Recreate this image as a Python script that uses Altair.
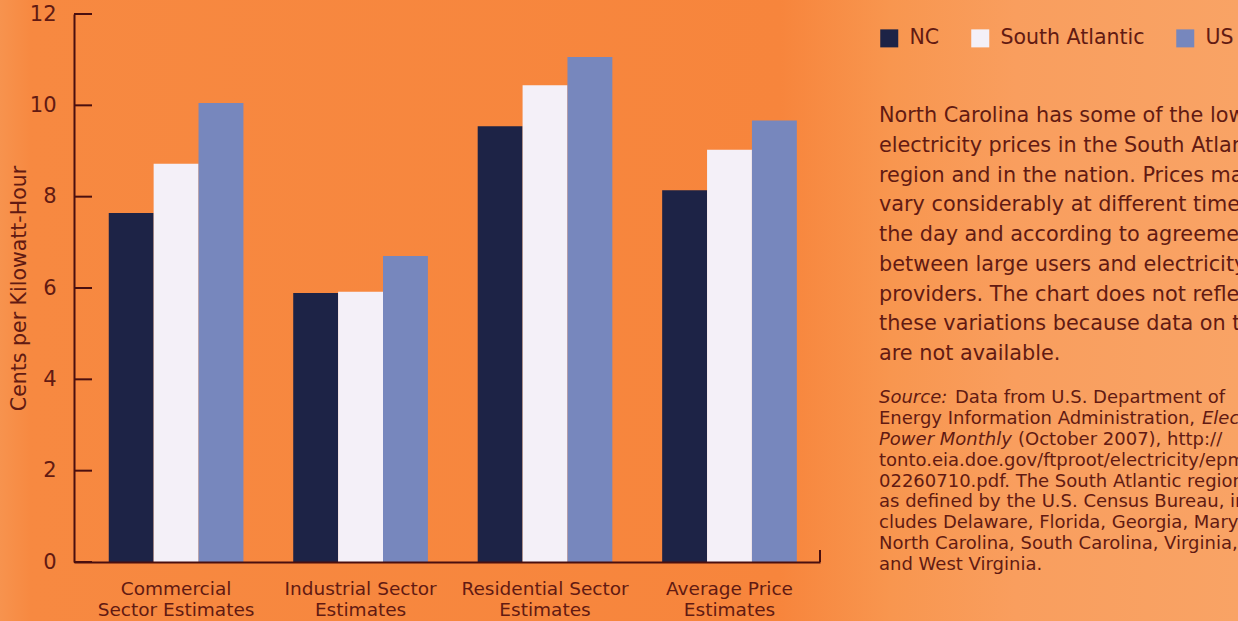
import altair as alt
import pandas as pd

# ---- data ----
categories = ["Commercial|Sector Estimates", "Industrial Sector|Estimates",
              "Residential Sector|Estimates", "Average Price|Estimates"]
series = ["NC", "South Atlantic", "US"]
nc = [7.64, 5.89, 9.54, 8.14]
south_atlantic = [8.72, 5.92, 10.44, 9.03]
us = [10.05, 6.70, 11.06, 9.67]
y_ticks = [0, 2, 4, 6, 8, 10, 12]
colors = ["#1d2346", "#f4f0f8", "#7787bd"]

body_lines = [
    "North Carolina has some of the lowest",
    "electricity prices in the South Atlantic",
    "region and in the nation. Prices may",
    "vary considerably at different times of",
    "the day and according to agreements",
    "between large users and electricity",
    "providers. The chart does not reflect",
    "these variations because data on them",
    "are not available.",
]
source_rest_lines = [
    "tonto.eia.doe.gov/ftproot/electricity/epm/",
    "02260710.pdf. The South Atlantic region,",
    "as defined by the U.S. Census Bureau, in-",
    "cludes Delaware, Florida, Georgia, Maryland,",
    "North Carolina, South Carolina, Virginia,",
    "and West Virginia.",
]

rows = []
for i, c in enumerate(categories):
    rows.append({"category": c, "series": series[0], "value": nc[i]})
    rows.append({"category": c, "series": series[1], "value": south_atlantic[i]})
    rows.append({"category": c, "series": series[2], "value": us[i]})
df = pd.DataFrame(rows)
ticks_df = pd.DataFrame({"v": y_ticks})
one = pd.DataFrame({"a": [0]})

FONT = "DejaVu Sans"
TXT = "#621a12"
AX = "#4a0f0f"
W, H = 746, 548
L, T = 74, 14

yscale = alt.Scale(domain=[0, 12], nice=False, zero=True)

background = alt.Chart(one).mark_rect(
    fill={
        "gradient": "linear", "x1": 0, "x2": 1, "y1": 0, "y2": 0,
        "stops": [
            {"offset": 0.0, "color": "#f7934e"},
            {"offset": 0.025, "color": "#f78941"},
            {"offset": 0.63, "color": "#f7853c"},
            {"offset": 0.72, "color": "#f8964f"},
            {"offset": 0.82, "color": "#f99e5e"},
            {"offset": 1.0, "color": "#f9a365"},
        ],
    }
).encode(x=alt.value(-L), x2=alt.value(1238 - L), y=alt.value(-T), y2=alt.value(621 - T))

bars = alt.Chart(df).mark_bar().encode(
    x=alt.X("category:N", sort=categories,
            scale=alt.Scale(paddingInner=0.27, paddingOuter=0.157, align=0.6),
            axis=alt.Axis(title=None, labelExpr="split(datum.label, '|')", labelAngle=0,
                          labelFont=FONT, labelFontSize=18.5, labelColor=TXT,
                          labelPadding=17, labelLineHeight=21.5, labelBaseline="top",
                          ticks=False, domainColor=AX, domainWidth=2, zindex=2)),
    xOffset=alt.XOffset("series:N", sort=series, scale=alt.Scale(paddingInner=0.0)),
    y=alt.Y("value:Q", scale=yscale,
            axis=alt.Axis(values=y_ticks, ticks=False, grid=False,
                          domainColor=AX, domainWidth=2, zindex=2,
                          labelFont=FONT, labelFontSize=21, labelColor=TXT, labelPadding=18,
                          title="Cents per Kilowatt-Hour", titleFont=FONT, titleFontSize=20.5,
                          titleFontWeight="normal", titleColor=TXT, titlePadding=0)),
    color=alt.Color("series:N", sort=series,
                    scale=alt.Scale(domain=series, range=colors),
                    legend=alt.Legend(title=None, orient="none", legendX=805, legendY=14,
                                      direction="horizontal", symbolType="square",
                                      symbolSize=324, symbolStrokeWidth=0,
                                      labelFont=FONT, labelFontSize=20.5, labelColor=TXT,
                                      labelOffset=10, columnPadding=30)),
)

tick_rules = alt.Chart(ticks_df).mark_rule(color=AX, strokeWidth=2).encode(
    y=alt.Y("v:Q", scale=yscale), x=alt.value(0), x2=alt.value(18))

end_tick = alt.Chart(one).mark_rule(color=AX, strokeWidth=2).encode(
    x=alt.value(W), y=alt.value(H - 12), y2=alt.value(H))

TX = 879 - L

body = alt.Chart(one).mark_text(
    text=body_lines, align="left", baseline="alphabetic", font=FONT, fontSize=20.8,
    color=TXT, lineHeight=29.75
).encode(x=alt.value(TX), y=alt.value(122 - T))

SF = 18
SLH = 20.9
sb = 403 - T
src1a = alt.Chart(one).mark_text(text="Source:", align="left", baseline="alphabetic",
                                 font=FONT, fontSize=SF, fontStyle="italic", color=TXT
                                 ).encode(x=alt.value(TX), y=alt.value(sb))
src1b = alt.Chart(one).mark_text(text="Data from U.S. Department of", align="left",
                                 baseline="alphabetic", font=FONT, fontSize=SF, color=TXT
                                 ).encode(x=alt.value(955 - L), y=alt.value(sb))
src2a = alt.Chart(one).mark_text(text="Energy Information Administration,", align="left",
                                 baseline="alphabetic", font=FONT, fontSize=SF, color=TXT
                                 ).encode(x=alt.value(TX), y=alt.value(sb + SLH))
src2b = alt.Chart(one).mark_text(text="Electric", align="left", baseline="alphabetic",
                                 font=FONT, fontSize=SF, fontStyle="italic", color=TXT
                                 ).encode(x=alt.value(1202 - L), y=alt.value(sb + SLH))
src3a = alt.Chart(one).mark_text(text="Power Monthly", align="left", baseline="alphabetic",
                                 font=FONT, fontSize=SF, fontStyle="italic", color=TXT
                                 ).encode(x=alt.value(TX), y=alt.value(sb + 2 * SLH))
src3b = alt.Chart(one).mark_text(text="(October 2007), http://", align="left",
                                 baseline="alphabetic", font=FONT, fontSize=SF, color=TXT
                                 ).encode(x=alt.value(1018 - L), y=alt.value(sb + 2 * SLH))
src_rest = alt.Chart(one).mark_text(text=source_rest_lines, align="left", baseline="alphabetic",
                                    font=FONT, fontSize=SF, color=TXT, lineHeight=SLH
                                    ).encode(x=alt.value(TX), y=alt.value(sb + 3 * SLH))

chart = alt.layer(
    background, bars, tick_rules, end_tick, body,
    src1a, src1b, src2a, src2b, src3a, src3b, src_rest
).properties(
    width=W, height=H,
    autosize=alt.AutoSizeParams(type="none"),
    padding={"left": L, "top": T, "right": 1238 - L - W, "bottom": 621 - T - H},
    background="#f7873e",
).configure_view(stroke=None)

chart.save("out.html", embed_options={"renderer": "svg", "actions": False})
